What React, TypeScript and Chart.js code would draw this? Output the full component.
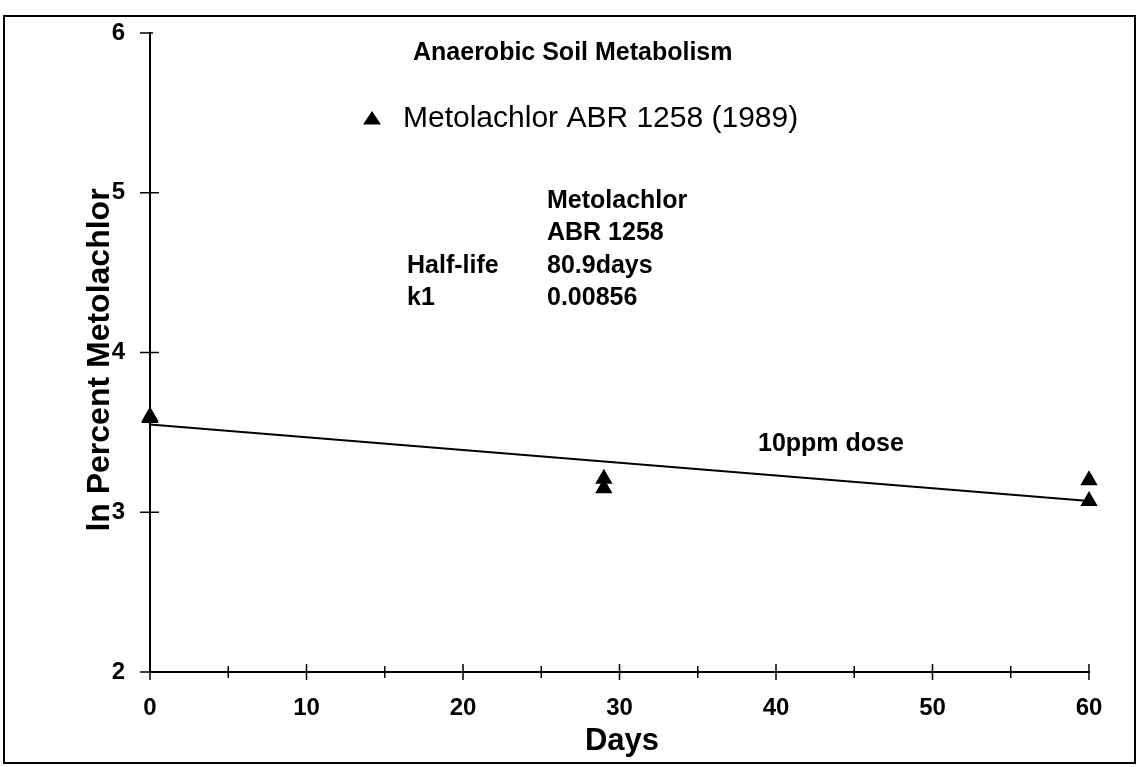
import React, { useEffect, useRef } from "react";
import { Chart, registerables } from "chart.js";

Chart.register(...registerables);

// ---- data ----
const obsDays = [0, 0, 29, 29, 60, 60];
const obsLnPercent = [3.6, 3.59, 3.21, 3.15, 3.2, 3.07];
const fitDays = [0, 60];
const fitLnPercent = [3.55, 3.07];
const xTickValues = [0, 10, 20, 30, 40, 50, 60];
const yTickValues = [2, 3, 4, 5, 6];
const seriesName = "Metolachlor ABR 1258 (1989)";
const chartTitle = "Anaerobic Soil Metabolism";
const statsHeader = ["Metolachlor", "ABR 1258"];
const statsRows = [
  ["Half-life", "80.9days"],
  ["k1", "0.00856"],
];
const doseLabel = "10ppm dose";
const xTitle = "Days";
const yTitle = "ln Percent Metolachlor";

const FONT = "'Liberation Sans', Arial, Helvetica, sans-serif";

const decorPlugin = {
  id: "decor",
  afterDraw(chart: any) {
    const ctx = chart.ctx;
    const xs = chart.scales.x;
    const ys = chart.scales.y;
    ctx.save();
    ctx.strokeStyle = "#000";
    ctx.fillStyle = "#000";
    // outer frame
    ctx.lineWidth = 2;
    ctx.strokeRect(4, 16, 1131, 747);
    // x ticks (crossing axis)
    const yAxisPix = ys.getPixelForValue(2);
    ctx.lineWidth = 1.5;
    for (let d = 0; d <= 60; d += 5) {
      const px = xs.getPixelForValue(d);
      const major = d % 10 === 0;
      const len = major ? 8 : 6;
      ctx.beginPath();
      ctx.moveTo(px, yAxisPix - len);
      ctx.lineTo(px, yAxisPix + len);
      ctx.stroke();
    }
    // y ticks
    const xAxisPix = xs.getPixelForValue(0);
    for (const v of yTickValues) {
      const py = ys.getPixelForValue(v);
      ctx.beginPath();
      ctx.moveTo(xAxisPix - 10, py);
      ctx.lineTo(xAxisPix + (v === 6 ? 3 : 9), py);
      ctx.stroke();
    }
    // texts
    ctx.textBaseline = "middle";
    ctx.textAlign = "left";
    ctx.font = `bold 25px ${FONT}`;
    ctx.fillText(chartTitle, 413, 53);

    // legend
    const tx = 372, ty = 119, r = 10;
    ctx.beginPath();
    ctx.moveTo(tx, ty - r * 0.8);
    ctx.lineTo(tx + r * 0.9, ty + r * 0.55);
    ctx.lineTo(tx - r * 0.9, ty + r * 0.55);
    ctx.closePath();
    ctx.fill();
    ctx.font = `30px ${FONT}`;
    ctx.fillText(seriesName, 403, 119);

    ctx.font = `bold 25px ${FONT}`;
    ctx.fillText(statsHeader[0], 547, 201);
    ctx.fillText(statsHeader[1], 547, 233);
    statsRows.forEach((row, i) => {
      const yy = 266 + i * 32;
      ctx.fillText(row[0], 407, yy);
      ctx.fillText(row[1], 547, yy);
    });
    ctx.fillText(doseLabel, 758, 444);

    // axis titles
    ctx.textAlign = "center";
    ctx.font = `bold 31px ${FONT}`;
    ctx.fillText(xTitle, 622, 741);
    ctx.save();
    ctx.translate(100, 360);
    ctx.rotate(-Math.PI / 2);
    ctx.font = `bold 32px ${FONT}`;
    ctx.fillText(yTitle, 0, 0);
    ctx.restore();
    ctx.restore();
  },
};

export default function App() {
  const ref = useRef<HTMLCanvasElement | null>(null);
  useEffect(() => {
    if (!ref.current) return;
    const chart = new Chart(ref.current, {
      type: "scatter",
      data: {
        datasets: [
          {
            type: "line",
            label: "fit",
            data: fitDays.map((d, i) => ({ x: d, y: fitLnPercent[i] })),
            borderColor: "#000",
            borderWidth: 2,
            pointRadius: 0,
            fill: false,
          } as any,
          {
            type: "scatter",
            label: seriesName,
            data: obsDays.map((d, i) => ({ x: d, y: obsLnPercent[i] })),
            pointStyle: "triangle",
            pointRadius: 10,
            backgroundColor: "#000",
            borderColor: "#000",
            borderWidth: 0,
            clip: false,
          } as any,
        ],
      },
      options: {
        responsive: false,
        animation: false,
        events: [],
        layout: { padding: { top: 33, right: 48, left: 0, bottom: 0 } },
        plugins: {
          legend: { display: false },
          title: { display: false },
          tooltip: { enabled: false },
        },
        scales: {
          x: {
            type: "linear",
            min: 0,
            max: 60,
            afterFit: (s: any) => {
              s.height = 95;
              s.paddingLeft = 0;
              s.paddingRight = 0;
            },
            afterBuildTicks: (s: any) => {
              s.ticks = xTickValues.map((v) => ({ value: v }));
            },
            grid: { display: false, drawTicks: false },
            border: { display: true, color: "#000", width: 2 },
            ticks: {
              color: "#000",
              padding: 22,
              font: { family: FONT, size: 24, weight: "bold" },
            },
          },
          y: {
            type: "linear",
            min: 2,
            max: 6,
            afterFit: (s: any) => {
              s.width = 150;
              s.paddingTop = 0;
              s.paddingBottom = 0;
            },
            afterBuildTicks: (s: any) => {
              s.ticks = yTickValues.map((v) => ({ value: v }));
            },
            grid: { display: false, drawTicks: false },
            border: { display: true, color: "#000", width: 2 },
            ticks: {
              color: "#000",
              padding: 25,
              font: { family: FONT, size: 24, weight: "bold" },
            },
          },
        },
      },
      plugins: [decorPlugin],
    });
    return () => chart.destroy();
  }, []);
  return (
    <div style={{ position: "absolute", left: 0, top: 0, width: 1137, height: 767, background: "#fff" }}>
      <canvas ref={ref} width={1137} height={767} />
    </div>
  );
}
